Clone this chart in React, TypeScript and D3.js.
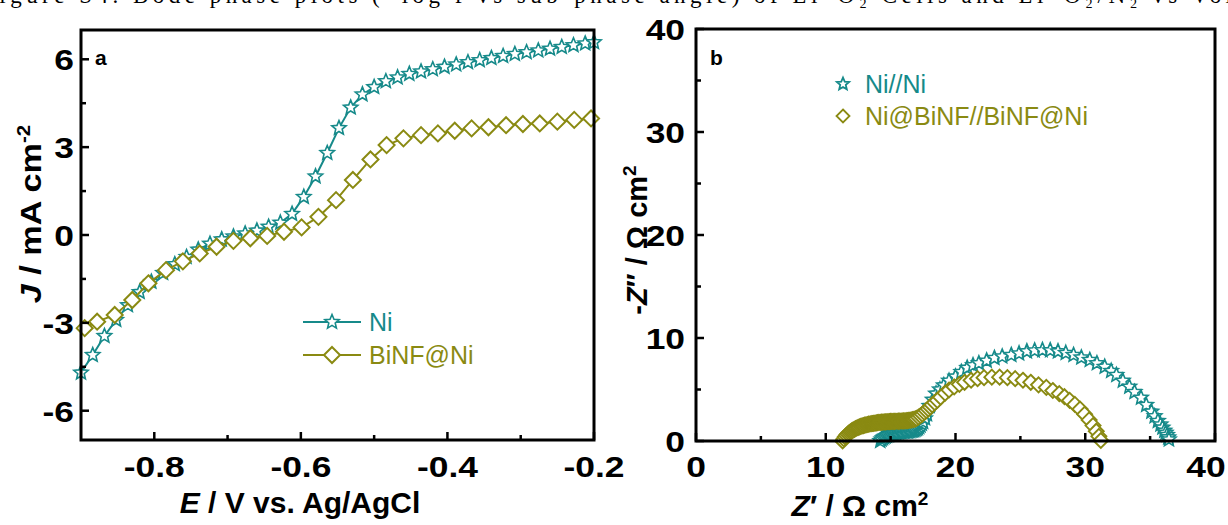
import React from "react";
import * as d3 from "d3";

// ---------- Panel a data (LSV) ----------
const niE = [-0.9, -0.884, -0.868, -0.852, -0.836, -0.82, -0.804, -0.788, -0.772, -0.756, -0.74, -0.724, -0.708, -0.692, -0.676, -0.66, -0.644, -0.628, -0.612, -0.596, -0.58, -0.564, -0.548, -0.532, -0.516, -0.5, -0.484, -0.468, -0.452, -0.436, -0.42, -0.404, -0.388, -0.372, -0.356, -0.34, -0.324, -0.308, -0.292, -0.276, -0.26, -0.244, -0.228, -0.212, -0.2];
const niJ = [-4.7, -4.1, -3.45, -2.9, -2.4, -1.95, -1.6, -1.3, -1.0, -0.75, -0.5, -0.3, -0.15, -0.05, 0.05, 0.15, 0.28, 0.42, 0.72, 1.3, 2.0, 2.8, 3.65, 4.35, 4.8, 5.05, 5.25, 5.38, 5.5, 5.58, 5.66, 5.74, 5.82, 5.9, 5.97, 6.04, 6.11, 6.18, 6.24, 6.3, 6.36, 6.42, 6.48, 6.54, 6.58];
const binfE = [-0.895, -0.878, -0.854, -0.83, -0.808, -0.784, -0.761, -0.738, -0.715, -0.692, -0.669, -0.646, -0.623, -0.599, -0.576, -0.552, -0.529, -0.505, -0.483, -0.46, -0.436, -0.413, -0.39, -0.367, -0.344, -0.32, -0.297, -0.274, -0.25, -0.227, -0.204];
const binfJ = [-3.18, -2.96, -2.73, -2.22, -1.65, -1.2, -0.9, -0.63, -0.4, -0.2, -0.11, -0.03, 0.11, 0.26, 0.62, 1.19, 1.88, 2.58, 3.07, 3.3, 3.41, 3.47, 3.56, 3.64, 3.68, 3.75, 3.79, 3.81, 3.87, 3.93, 3.98];
const aXTicks = [-0.8, -0.6, -0.4, -0.2];
const aXMinor = [-0.7, -0.5, -0.3];
const aYTicks = [-6, -3, 0, 3, 6];
const aYMinor = [-4.5, -1.5, 1.5, 4.5];

// ---------- Panel b data (Nyquist) ----------
const niniRe = [14.2, 14.3, 14.4, 14.5, 14.6, 14.7, 14.8, 14.9, 15.0, 15.1, 15.2, 15.3, 15.4, 15.5, 15.6, 15.7, 15.8, 15.9, 16.0, 16.1, 16.2, 16.3, 16.4, 16.5, 16.6, 16.7, 16.8, 16.9, 17.0, 17.1, 17.2, 17.3, 17.4, 17.5, 17.65, 17.8, 18.0, 18.25, 18.5, 18.8, 19.1, 19.5, 20.0, 20.45, 20.9, 21.35, 21.8, 22.4, 23.0, 23.6, 24.3, 24.9, 25.5, 26.1, 26.7, 27.3, 27.9, 28.5, 29.1, 29.7, 30.35, 30.9, 31.5, 32.0, 32.4, 32.9, 33.4, 33.8, 34.3, 34.7, 35.1, 35.35, 35.6, 35.8, 35.95, 36.1, 36.2, 36.3, 36.4, 36.45];
const niniIm = [0.0, 0.15, 0.27, 0.36, 0.44, 0.5, 0.56, 0.61, 0.65, 0.69, 0.72, 0.75, 0.78, 0.8, 0.82, 0.84, 0.86, 0.87, 0.89, 0.9, 0.92, 0.93, 0.95, 0.97, 0.99, 1.02, 1.05, 1.1, 1.17, 1.25, 1.37, 1.5, 1.67, 1.85, 2.2, 2.6, 3.4, 4.0, 4.6, 5.0, 5.4, 5.85, 6.25, 6.7, 7.1, 7.35, 7.55, 7.8, 8.05, 8.2, 8.35, 8.5, 8.7, 8.78, 8.82, 8.8, 8.7, 8.55, 8.35, 8.1, 7.86, 7.55, 7.2, 6.8, 6.4, 5.85, 5.27, 4.75, 4.2, 3.5, 2.85, 2.4, 1.95, 1.6, 1.3, 1.0, 0.8, 0.58, 0.35, 0.15];
const nibRe = [11.3, 11.4, 11.5, 11.6, 11.7, 11.8, 11.9, 12.0, 12.1, 12.2, 12.3, 12.4, 12.5, 12.6, 12.7, 12.8, 12.9, 13.0, 13.1, 13.2, 13.3, 13.4, 13.5, 13.6, 13.7, 13.8, 13.9, 14.0, 14.1, 14.2, 14.3, 14.4, 14.5, 14.6, 14.7, 14.8, 14.9, 15.0, 15.1, 15.2, 15.3, 15.4, 15.5, 15.6, 15.7, 15.8, 15.9, 16.0, 16.1, 16.2, 16.3, 16.4, 16.5, 16.6, 16.7, 16.8, 16.9, 17.0, 17.15, 17.3, 17.45, 17.6, 17.75, 17.9, 18.05, 18.2, 18.4, 18.6, 18.85, 19.2, 19.5, 19.9, 20.3, 20.7, 21.2, 21.7, 22.2, 22.8, 23.4, 24.0, 24.6, 25.2, 25.8, 26.4, 27.0, 27.5, 28.0, 28.4, 28.8, 29.2, 29.6, 29.95, 30.3, 30.6, 30.85, 31.05, 31.2];
const nibIm = [0.0, 0.2, 0.4, 0.55, 0.68, 0.8, 0.9, 0.98, 1.06, 1.13, 1.2, 1.26, 1.32, 1.37, 1.42, 1.46, 1.5, 1.54, 1.57, 1.6, 1.63, 1.65, 1.68, 1.7, 1.72, 1.74, 1.76, 1.78, 1.8, 1.81, 1.83, 1.84, 1.85, 1.86, 1.87, 1.88, 1.89, 1.9, 1.9, 1.91, 1.91, 1.92, 1.92, 1.93, 1.93, 1.94, 1.94, 1.95, 1.96, 1.97, 1.98, 2.0, 2.02, 2.04, 2.07, 2.1, 2.15, 2.2, 2.32, 2.45, 2.6, 2.78, 2.95, 3.12, 3.3, 3.5, 3.72, 3.95, 4.25, 4.65, 4.95, 5.25, 5.5, 5.7, 5.9, 6.05, 6.15, 6.2, 6.2, 6.15, 6.05, 5.9, 5.7, 5.45, 5.2, 4.9, 4.6, 4.3, 3.95, 3.55, 3.1, 2.6, 2.05, 1.5, 0.95, 0.45, 0.05];
const bXTicks = [0, 10, 20, 30, 40];
const bXMinor = [5, 15, 25, 35];
const bYTicks = [0, 10, 20, 30, 40];
const bYMinor = [5, 15, 25, 35];

const TEAL = "#168a8a";
const OLIVE = "#8a8a12";
const FONT = "'Liberation Sans', Arial, sans-serif";

function starPath(R: number) {
  const r = R * 0.45;
  const pts: string[] = [];
  for (let i = 0; i < 10; i++) {
    const rad = i % 2 === 0 ? R : r;
    const a = -Math.PI / 2 + (i * Math.PI) / 5;
    pts.push(`${(rad * Math.cos(a)).toFixed(2)},${(rad * Math.sin(a)).toFixed(2)}`);
  }
  return "M" + pts.join("L") + "Z";
}
function diamondPath(r: number) {
  return `M0,${-r}L${r},0L0,${r}L${-r},0Z`;
}

function TickLabel({ x, y, text, anchor }: { x: number; y: number; text: string; anchor: string }) {
  return (
    <text
      transform={`translate(${x},${y}) scale(1.18,1)`}
      textAnchor={anchor}
      fontFamily={FONT}
      fontWeight="bold"
      fontSize={30}
      fill="#000"
    >
      {text}
    </text>
  );
}

export default function App() {
  const xA = d3.scaleLinear().domain([-0.9, -0.2]).range([81, 594]);
  const yA = d3.scaleLinear().domain([-7, 7]).range([440, 30]);
  const xB = d3.scaleLinear().domain([0, 40]).range([696, 1215]);
  const yB = d3.scaleLinear().domain([0, 40]).range([441, 29]);

  const lineA = d3.line<[number, number]>().x((d) => xA(d[0])).y((d) => yA(d[1]));
  const niPts: [number, number][] = niE.map((e, i) => [e, niJ[i]]);
  const binfPts: [number, number][] = binfE.map((e, i) => [e, binfJ[i]]);

  const starA = starPath(7.5);
  const diaA = diamondPath(8);
  const starB = starPath(7.5);
  const diaB = diamondPath(7.5);

  const fmtA = (v: number) => v.toFixed(1);

  return (
    <svg width={1228} height={525} style={{ position: "absolute", left: 0, top: 0, background: "#fff" }}>
      <rect x={0} y={0} width={1228} height={525} fill="#fff" />
      {/* cropped caption (only its lower part is visible in the figure) */}
      <text x={-18} y={3} fontFamily="'Liberation Serif', 'Times New Roman', serif" fontSize={23} fill="#000" textLength={1250} lengthAdjust="spacing">
        Figure S4. Bode phase plots (−log f vs sub-phase angle) of Li–O₂ Cells and Li–O₂/N₂ vs Vol
      </text>

      {/* ---------------- Panel a ---------------- */}
      <g>
        <path d={lineA(niPts) || ""} fill="none" stroke={TEAL} strokeWidth={2} />
        {niPts.map((p, i) => (
          <path key={"ns" + i} d={starA} transform={`translate(${xA(p[0])},${yA(p[1])})`} fill="#fff" stroke={TEAL} strokeWidth={1.6} />
        ))}
        <path d={lineA(binfPts) || ""} fill="none" stroke={OLIVE} strokeWidth={2} />
        {binfPts.map((p, i) => (
          <path key={"bd" + i} d={diaA} transform={`translate(${xA(p[0])},${yA(p[1])})`} fill="#fff" stroke={OLIVE} strokeWidth={2} />
        ))}
        <rect x={81} y={30} width={513} height={410} fill="none" stroke="#000" strokeWidth={3} />
        {aXTicks.map((t) => (
          <line key={"axt" + t} x1={xA(t)} x2={xA(t)} y1={440} y2={432} stroke="#000" strokeWidth={2.5} />
        ))}
        {aXMinor.map((t) => (
          <line key={"axm" + t} x1={xA(t)} x2={xA(t)} y1={440} y2={435} stroke="#000" strokeWidth={2.5} />
        ))}
        {aYTicks.map((t) => (
          <line key={"ayt" + t} x1={81} x2={89} y1={yA(t)} y2={yA(t)} stroke="#000" strokeWidth={2.5} />
        ))}
        {aYMinor.map((t) => (
          <line key={"aym" + t} x1={81} x2={86} y1={yA(t)} y2={yA(t)} stroke="#000" strokeWidth={2.5} />
        ))}
        {aXTicks.map((t) => (
          <TickLabel key={"axl" + t} x={xA(t)} y={477} text={fmtA(t)} anchor="middle" />
        ))}
        {aYTicks.map((t) => (
          <TickLabel key={"ayl" + t} x={74} y={yA(t) + 11} text={String(t)} anchor="end" />
        ))}
        <text x={95} y={65} fontFamily={FONT} fontWeight="bold" fontSize={21}>a</text>
        <text x={300} y={513} textAnchor="middle" fontFamily={FONT} fontWeight="bold" fontSize={30}>
          <tspan fontStyle="italic">E</tspan> / V vs. Ag/AgCl
        </text>
        <text transform="translate(41,214) rotate(-90) scale(1.14,1)" textAnchor="middle" fontFamily={FONT} fontWeight="bold" fontSize={30}>
          <tspan fontStyle="italic">J</tspan> / mA cm<tspan dy={-11} fontSize={18}>-2</tspan>
        </text>
        {/* legend */}
        <line x1={303} x2={361} y1={322} y2={322} stroke={TEAL} strokeWidth={2} />
        <path d={starA} transform="translate(332,322)" fill="#fff" stroke={TEAL} strokeWidth={1.6} />
        <text x={369} y={331} fontFamily={FONT} fontSize={25} fill={TEAL}>Ni</text>
        <line x1={303} x2={361} y1={355} y2={355} stroke={OLIVE} strokeWidth={2} />
        <path d={diaA} transform="translate(332,355)" fill="#fff" stroke={OLIVE} strokeWidth={2} />
        <text x={369} y={364} fontFamily={FONT} fontSize={25} fill={OLIVE}>BiNF@Ni</text>
      </g>

      {/* ---------------- Panel b ---------------- */}
      <g>
        {niniRe.map((v, i) => (
          <path key={"bs" + i} d={starB} transform={`translate(${xB(v)},${yB(niniIm[i])})`} fill="#fff" stroke={TEAL} strokeWidth={1.6} />
        ))}
        {nibRe.map((v, i) => (
          <path key={"bd" + i} d={diaB} transform={`translate(${xB(v)},${yB(nibIm[i])})`} fill="#fff" stroke={OLIVE} strokeWidth={1.9} />
        ))}
        <rect x={696} y={29} width={519} height={412} fill="none" stroke="#000" strokeWidth={3} />
        {bXTicks.map((t) => (
          <line key={"bxt" + t} x1={xB(t)} x2={xB(t)} y1={441} y2={433} stroke="#000" strokeWidth={2.5} />
        ))}
        {bXMinor.map((t) => (
          <line key={"bxm" + t} x1={xB(t)} x2={xB(t)} y1={441} y2={436} stroke="#000" strokeWidth={2.5} />
        ))}
        {bYTicks.map((t) => (
          <line key={"byt" + t} x1={696} x2={704} y1={yB(t)} y2={yB(t)} stroke="#000" strokeWidth={2.5} />
        ))}
        {bYMinor.map((t) => (
          <line key={"bym" + t} x1={696} x2={701} y1={yB(t)} y2={yB(t)} stroke="#000" strokeWidth={2.5} />
        ))}
        {bXTicks.map((t) => (
          <TickLabel key={"bxl" + t} x={t === 40 ? xB(t) - 9 : xB(t)} y={477} text={String(t)} anchor="middle" />
        ))}
        {bYTicks.map((t) => (
          <TickLabel key={"byl" + t} x={685} y={yB(t) + 11} text={String(t)} anchor="end" />
        ))}
        <text x={710} y={65} fontFamily={FONT} fontWeight="bold" fontSize={21}>b</text>
        <text x={860} y={516} textAnchor="middle" fontFamily={FONT} fontWeight="bold" fontSize={30}>
          <tspan fontStyle="italic">Z</tspan>′ / Ω cm<tspan dy={-11} fontSize={19}>2</tspan>
        </text>
        <text transform="translate(647,240) rotate(-90)" textAnchor="middle" fontFamily={FONT} fontWeight="bold" fontSize={29}>
          -<tspan fontStyle="italic">Z</tspan>″ / Ω cm<tspan dy={-11} fontSize={19}>2</tspan>
        </text>
        {/* legend */}
        <path d={starPath(6.5)} transform="translate(843,84)" fill="#fff" stroke={TEAL} strokeWidth={1.8} />
        <text x={865} y={93} fontFamily={FONT} fontSize={25} fill={TEAL}>Ni//Ni</text>
        <path d={diamondPath(6.5)} transform="translate(843,116)" fill="#fff" stroke={OLIVE} strokeWidth={1.8} />
        <text x={865} y={125} fontFamily={FONT} fontSize={25} fill={OLIVE}>Ni@BiNF//BiNF@Ni</text>
      </g>
    </svg>
  );
}
